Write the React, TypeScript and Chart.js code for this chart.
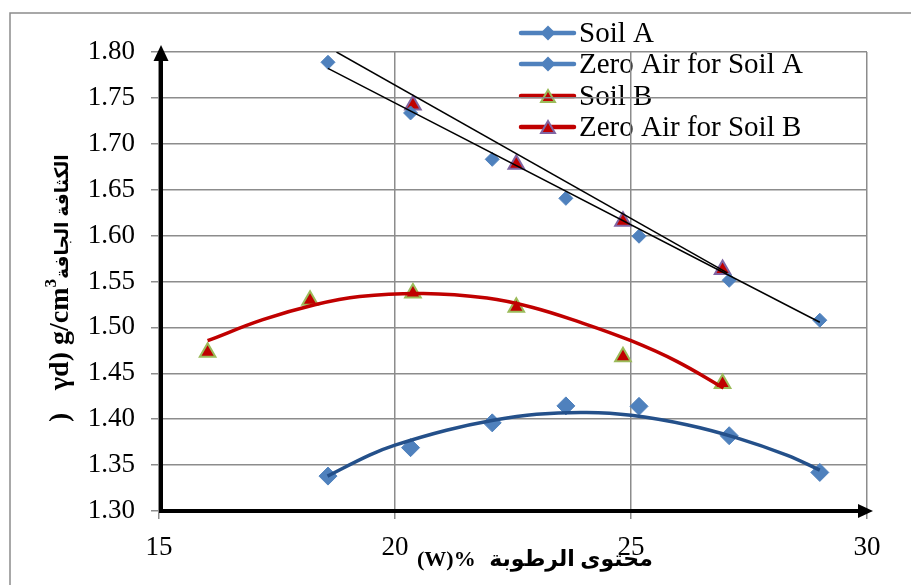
import React, { useEffect, useRef } from "react";
import { Chart, registerables } from "chart.js";

Chart.register(...registerables);

// Moisture content (%) and dry density (g/cm3) for each soil
const soilAWater = [18.58, 20.33, 22.06, 23.62, 25.17, 27.08, 29.0];
const soilADensity = [1.338, 1.369, 1.396, 1.4145, 1.414, 1.382, 1.342];
const zeroAirADensity = [1.7888, 1.7336, 1.6831, 1.6406, 1.5993, 1.5513, 1.5078];

const soilBWater = [16.03, 18.2, 20.38, 22.57, 24.83, 26.94];
const soilBDensity = [1.473, 1.5295, 1.5375, 1.522, 1.468, 1.439];
const zeroAirBWater = [20.38, 22.57, 24.83, 26.94];
const zeroAirBDensity = [1.7423, 1.6777, 1.6155, 1.5632];

// Compaction curves and zero-air-voids lines
const soilACurveWater = [18.57, 19.46, 20.0, 21.09, 22.08, 23.0, 24.06, 25.0, 26.18, 27.24, 28.3, 29.0];
const soilACurveDensity = [1.338, 1.3609, 1.3717, 1.388, 1.3989, 1.4054, 1.4073, 1.4043, 1.394, 1.3797, 1.3609, 1.3446];
const soilBCurveWater = [16.03, 17.2, 18.3, 19.25, 20.6, 21.95, 22.9, 23.9, 25.0, 25.97, 26.96];
const soilBCurveDensity = [1.4855, 1.5084, 1.5247, 1.5337, 1.537, 1.532, 1.522, 1.506, 1.4855, 1.463, 1.434];
const zeroAirALineWater = [18.58, 29.0];
const zeroAirALineDensity = [1.7822, 1.5056];
const zeroAirBLineWater = [18.76, 27.04];
const zeroAirBLineDensity = [1.8, 1.5595];

// Axis ranges and labels
const xMin = 15;
const xMax = 30;
const xStep = 5;
const yMin = 1.3;
const yMax = 1.8;
const yStep = 0.05;

const legendLabels = ["Soil A", "Zero Air for Soil A", "Soil B", "Zero Air for Soil B"];
const xTitleLatin = "(W)%";
const xTitleArabic = "محتوى الرطوبة";
const yTitleParen = ")";
const yTitleUnit = "γd) g/cm";
const yTitleSup = "3";
const yTitleArabic = "الكثافة الجافة";

const BLUE = "#4F81BD";
const NAVY = "#24508A";
const RED = "#C00000";
const GREEN = "#9BBB59";
const PURPLE = "#8064A2";
const GRID = "#8c8c8c";
const SERIF = "'Liberation Serif', 'Times New Roman', 'DejaVu Sans', serif";

const pts = (xs: number[], ys: number[]) => xs.map((x, i) => ({ x, y: ys[i] }));

function diamond(ctx: CanvasRenderingContext2D, x: number, y: number, r: number, fill: string) {
  ctx.beginPath();
  ctx.moveTo(x - r, y);
  ctx.lineTo(x, y - r);
  ctx.lineTo(x + r, y);
  ctx.lineTo(x, y + r);
  ctx.closePath();
  ctx.fillStyle = fill;
  ctx.fill();
}

function triangle(ctx: CanvasRenderingContext2D, x: number, y: number, r: number, fill: string, stroke: string) {
  ctx.beginPath();
  for (let k = 0; k < 3; k++) {
    const a = (k * 2 * Math.PI) / 3;
    const px = x + Math.sin(a) * r;
    const py = y - Math.cos(a) * r;
    if (k === 0) ctx.moveTo(px, py);
    else ctx.lineTo(px, py);
  }
  ctx.closePath();
  ctx.fillStyle = fill;
  ctx.fill();
  ctx.lineWidth = 2;
  ctx.strokeStyle = stroke;
  ctx.stroke();
}

const decor = {
  id: "decor",
  beforeDraw(chart: any) {
    const ctx: CanvasRenderingContext2D = chart.ctx;
    ctx.save();
    // outer frame
    ctx.strokeStyle = GRID;
    ctx.lineWidth = 1.5;
    ctx.beginPath();
    ctx.moveTo(10, chart.height);
    ctx.lineTo(10, 13);
    ctx.lineTo(chart.width, 13);
    ctx.stroke();

    // legend
    const rows = [33, 64, 96, 127];
    const lineColors = [BLUE, BLUE, RED, RED];
    ctx.font = `29px ${SERIF}`;
    ctx.textBaseline = "alphabetic";
    ctx.textAlign = "left";
    rows.forEach((ry, i) => {
      ctx.strokeStyle = lineColors[i];
      ctx.lineWidth = 4.5;
      ctx.lineCap = "round";
      ctx.beginPath();
      ctx.moveTo(521, ry);
      ctx.lineTo(574, ry);
      ctx.stroke();
      if (i < 2) diamond(ctx, 548, ry, 7.5, BLUE);
      else triangle(ctx, 548, ry + 2, 8, RED, i === 2 ? GREEN : PURPLE);
      ctx.fillStyle = "#000";
      ctx.fillText(legendLabels[i], 579, ry + 9);
    });
    ctx.restore();
  },
  afterDraw(chart: any) {
    const ctx: CanvasRenderingContext2D = chart.ctx;
    const a = chart.chartArea;
    ctx.save();
    // thick axes with arrow heads
    const ax = a.left + 2;
    const ay = a.bottom;
    ctx.strokeStyle = "#000";
    ctx.fillStyle = "#000";
    ctx.lineWidth = 4;
    ctx.lineCap = "butt";
    ctx.beginPath();
    ctx.moveTo(ax, ay + 2);
    ctx.lineTo(ax, a.top + 8);
    ctx.moveTo(a.left, ay);
    ctx.lineTo(a.right - 8, ay);
    ctx.stroke();
    ctx.beginPath();
    ctx.moveTo(ax, a.top - 7);
    ctx.lineTo(ax - 7.5, a.top + 9);
    ctx.lineTo(ax + 7.5, a.top + 9);
    ctx.closePath();
    ctx.fill();
    ctx.beginPath();
    ctx.moveTo(a.right + 6, ay);
    ctx.lineTo(a.right - 9, ay - 7);
    ctx.lineTo(a.right - 9, ay + 7);
    ctx.closePath();
    ctx.fill();

    // x axis title
    ctx.fillStyle = "#000";
    ctx.textBaseline = "alphabetic";
    ctx.font = `bold 22px ${SERIF}`;
    ctx.textAlign = "left";
    ctx.fillText(xTitleLatin, 417, 566);
    ctx.direction = "rtl";
    ctx.textAlign = "center";
    ctx.fillText(xTitleArabic, 571, 566);
    ctx.direction = "ltr";

    // y axis title, reading bottom to top
    ctx.translate(68, 422);
    ctx.rotate(-Math.PI / 2);
    ctx.textAlign = "left";
    ctx.font = `bold 28px ${SERIF}`;
    ctx.fillText(yTitleParen, 0, 0);
    let x = 32;
    ctx.fillText(yTitleUnit, x, 0);
    x += ctx.measureText(yTitleUnit).width;
    ctx.font = `bold 17px ${SERIF}`;
    ctx.fillText(yTitleSup, x, -12);
    x += ctx.measureText(yTitleSup).width;
    // Arabic part fitted into the space left above the unit
    ctx.font = `bold 22px ${SERIF}`;
    const w = ctx.measureText(yTitleArabic).width;
    const size = Math.min(26, (22 * 125) / w);
    ctx.font = `bold ${size.toFixed(1)}px ${SERIF}`;
    ctx.direction = "rtl";
    ctx.textAlign = "left";
    ctx.fillText(yTitleArabic, x, 0);
    ctx.restore();
  },
};

export default function App() {
  const ref = useRef<HTMLCanvasElement>(null);

  useEffect(() => {
    if (!ref.current) return;
    const tickFont = { family: SERIF, size: 27 };
    const chart = new Chart(ref.current, {
      type: "scatter",
      data: {
        datasets: [
          {
            label: "Soil A curve",
            type: "line",
            data: pts(soilACurveWater, soilACurveDensity),
            borderColor: NAVY,
            borderWidth: 3.5,
            pointRadius: 0,
            tension: 0.4,
            order: 0,
          },
          {
            label: "Soil B curve",
            type: "line",
            data: pts(soilBCurveWater, soilBCurveDensity),
            borderColor: RED,
            borderWidth: 3.5,
            pointRadius: 0,
            tension: 0.4,
            order: 0,
          },
          {
            label: "Zero Air A line",
            type: "line",
            data: pts(zeroAirALineWater, zeroAirALineDensity),
            borderColor: "#000",
            borderWidth: 1.5,
            pointRadius: 0,
            order: 0,
          },
          {
            label: "Zero Air B line",
            type: "line",
            data: pts(zeroAirBLineWater, zeroAirBLineDensity),
            borderColor: "#000",
            borderWidth: 1.5,
            pointRadius: 0,
            order: 0,
          },
          {
            label: legendLabels[0],
            data: pts(soilAWater, soilADensity),
            pointStyle: "rectRot",
            pointRadius: 9,
            backgroundColor: BLUE,
            borderColor: BLUE,
            borderWidth: 1,
            order: 1,
          },
          {
            label: legendLabels[1],
            data: pts(soilAWater, zeroAirADensity),
            pointStyle: "rectRot",
            pointRadius: 7,
            backgroundColor: BLUE,
            borderColor: BLUE,
            borderWidth: 1,
            order: 1,
          },
          {
            label: legendLabels[2],
            data: pts(soilBWater, soilBDensity),
            pointStyle: "triangle",
            pointRadius: 9,
            backgroundColor: RED,
            borderColor: GREEN,
            borderWidth: 2,
            order: 1,
          },
          {
            label: legendLabels[3],
            data: pts(zeroAirBWater, zeroAirBDensity),
            pointStyle: "triangle",
            pointRadius: 9,
            backgroundColor: RED,
            borderColor: PURPLE,
            borderWidth: 2,
            order: 1,
          },
        ],
      },
      options: {
        animation: false,
        responsive: false,
        events: [],
        layout: { padding: { top: 52, right: 44, left: 0, bottom: 0 } },
        plugins: { legend: { display: false }, tooltip: { enabled: false } },
        scales: {
          x: {
            type: "linear",
            min: xMin,
            max: xMax,
            afterFit: (s: any) => {
              s.height = 74;
            },
            ticks: {
              stepSize: xStep,
              font: tickFont,
              color: "#000",
              padding: 13,
              maxRotation: 0,
              callback: (v: any) => String(v),
            },
            grid: { color: GRID, lineWidth: 1.5, tickLength: 8 },
            border: { display: false },
          },
          y: {
            type: "linear",
            min: yMin,
            max: yMax,
            afterFit: (s: any) => {
              s.width = 159;
            },
            ticks: {
              stepSize: yStep,
              font: tickFont,
              color: "#000",
              padding: 16,
              callback: (v: any) => Number(v).toFixed(2),
            },
            grid: { color: GRID, lineWidth: 1.5, tickLength: 8 },
            border: { display: false },
          },
        },
      },
      plugins: [decor],
    } as any);
    return () => chart.destroy();
  }, []);

  return (
    <canvas
      ref={ref}
      width={911}
      height={585}
      style={{ position: "absolute", left: 0, top: 0, display: "block", background: "#fff" }}
    />
  );
}
